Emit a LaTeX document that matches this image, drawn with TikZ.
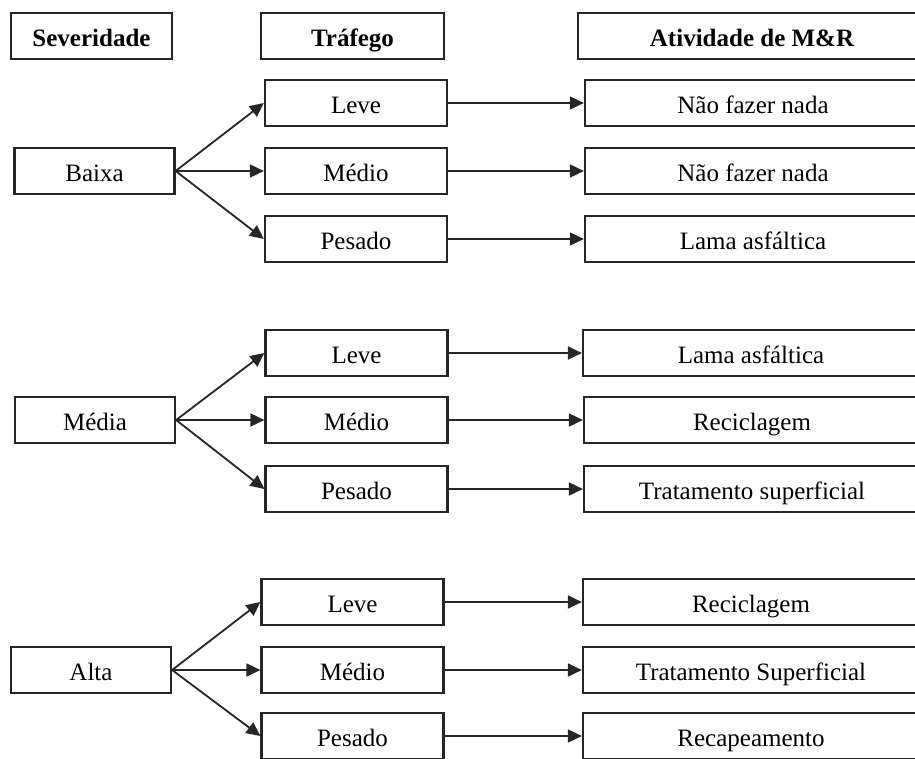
\documentclass[tikz,border=0pt]{standalone}
\usepackage{fontspec}
\setmainfont{Liberation Serif}
\usetikzlibrary{arrows.meta}
\usetikzlibrary{positioning}
\tikzset{
  box/.style={draw=black!85, line width=2.2pt, minimum height=46pt, inner sep=0pt,
    text height=25pt, text depth=5pt, font=\fontsize{25}{30}\selectfont},
  headbox/.style={box, font=\fontsize{25}{30}\selectfont\bfseries},
  sevbox/.style={box, minimum width=160pt},
  trafbox/.style={box, minimum width=182pt},
  actbox/.style={box, minimum width=336pt},
  flow/.style={-{Triangle[length=14pt,width=13pt]}, line width=1.8pt, draw=black!85},
}

\begin{document}
\begin{tikzpicture}[x=1pt, y=-1pt]
\clip (0,0) rectangle (915,758);
% cabecalho
\node[headbox, minimum width=161pt] (hsev) at (91.5,36) {Severidade};
\node[headbox, minimum width=183pt] (htraf) at (352.5,36) {Tráfego};
\node[headbox, minimum width=348pt] (hativ) at (752,36) {Atividade de M\&R};
% severidade baixa
\node[sevbox] (baixa) at (94.5,171) {Baixa};
\node[trafbox] (bleve) at (356,103) {Leve};
\node[trafbox] (bmedio) at (356,171) {Médio};
\node[trafbox] (bpesado) at (356,239) {Pesado};
\node[actbox] (bleveA) at (753,103) {Não fazer nada};
\node[actbox] (bmedioA) at (753,171) {Não fazer nada};
\node[actbox] (bpesadoA) at (753,239) {Lama asfáltica};
\draw[flow] (baixa.east) -- (bleve.west);
\draw[flow] (baixa.east) -- (bmedio.west);
\draw[flow] (baixa.east) -- (bpesado.west);
\draw[flow] (bleve.east) -- (bleveA.west);
\draw[flow] (bmedio.east) -- (bmedioA.west);
\draw[flow] (bpesado.east) -- (bpesadoA.west);
% severidade media
\node[sevbox] (media) at (95,420) {Média};
\node[trafbox] (mleve) at (356.5,353) {Leve};
\node[trafbox] (mmedio) at (356.5,420) {Médio};
\node[trafbox] (mpesado) at (356.5,489) {Pesado};
\node[actbox] (mleveA) at (751,353) {Lama asfáltica};
\node[actbox] (mmedioA) at (752,420) {Reciclagem};
\node[actbox] (mpesadoA) at (752,489) {Tratamento superficial};
\draw[flow] (media.east) -- (mleve.west);
\draw[flow] (media.east) -- (mmedio.west);
\draw[flow] (media.east) -- (mpesado.west);
\draw[flow] (mleve.east) -- (mleveA.west);
\draw[flow] (mmedio.east) -- (mmedioA.west);
\draw[flow] (mpesado.east) -- (mpesadoA.west);
% severidade alta
\node[sevbox] (alta) at (91,670) {Alta};
\node[trafbox] (aleve) at (352.5,602) {Leve};
\node[trafbox] (amedio) at (352.5,670) {Médio};
\node[trafbox] (apesado) at (352.5,736) {Pesado};
\node[actbox] (aleveA) at (751,602) {Reciclagem};
\node[actbox] (amedioA) at (751,670) {Tratamento Superficial};
\node[actbox] (apesadoA) at (751,736) {Recapeamento};
\draw[flow] (alta.east) -- (aleve.west);
\draw[flow] (alta.east) -- (amedio.west);
\draw[flow] (alta.east) -- (apesado.west);
\draw[flow] (aleve.east) -- (aleveA.west);
\draw[flow] (amedio.east) -- (amedioA.west);
\draw[flow] (apesado.east) -- (apesadoA.west);
\end{tikzpicture}
\end{document}
